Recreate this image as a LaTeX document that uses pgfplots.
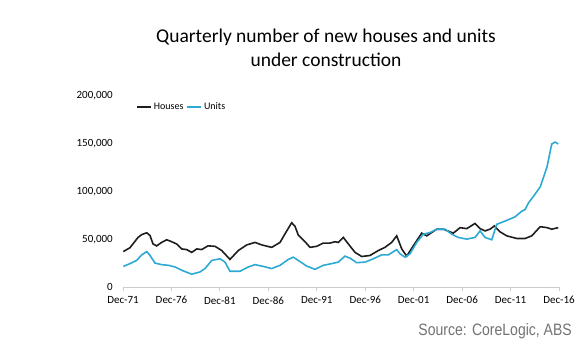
\documentclass[border=0pt]{standalone}
\usepackage{pgfplots}
\pgfplotsset{compat=1.18}
\usepackage{fontspec}
\setmainfont{Carlito}
\newfontfamily\srcfont[FakeStretch=0.85]{Liberation Sans}
\definecolor{unitblue}{RGB}{45,170,212}
\definecolor{housek}{RGB}{30,30,30}
\begin{document}
\begin{tikzpicture}[x=1pt,y=1pt]
\useasboundingbox (0,0) rectangle (580,352);
\node[font=\fontsize{19.5}{24}\selectfont, align=center, anchor=center] at (326,304) {Quarterly number of new houses and units\\under construction};
\begin{axis}[
  at={(123pt,65pt)}, anchor=south west,
  scale only axis, width=436pt, height=187pt,
  xmin=1971.92, xmax=2016.92,
  ymin=0, ymax=200000,
  axis x line*=bottom, axis y line=none,
  x axis line style={draw=gray!40, line width=0.8pt, -},
  xtick={1971.92,1976.92,...,2016.92},
  xticklabels={Dec-71,Dec-76,Dec-81,Dec-86,Dec-91,Dec-96,Dec-01,Dec-06,Dec-11,Dec-16},
  major tick length=4pt,
  xtick style={draw=gray!40, line width=0.8pt},
  tick align=outside,
  x tick label style={font=\fontsize{11}{13}\selectfont, yshift=-2pt},
  clip=false,
  legend style={at={(0.03,0.963)}, anchor=west, draw=none, fill=none,
    font=\fontsize{10}{12}\selectfont, inner sep=0pt,
    /tikz/every even column/.append style={column sep=1pt}},
  legend columns=2,
  legend image code/.code={\draw[#1] (0pt,0pt) -- (14pt,0pt);},
]
\addplot[housek, line width=1.6pt] coordinates {
(1971.95,37900)(1972.64,42000)(1973.47,53000)(1973.85,56000)(1974.37,58000)(1974.71,55000)(1975.02,46000)(1975.40,44000)(1975.91,47700)(1976.43,50500)(1976.95,48400)(1977.46,46000)(1977.98,40700)(1978.50,40000)(1979.01,37000)(1979.53,40700)(1980.04,40000)(1980.69,44000)(1981.42,43500)(1982.11,39000)(1982.96,29500)(1983.82,39000)(1984.69,45000)(1985.54,47700)(1986.24,45000)(1987.27,42400)(1988.13,47700)(1988.82,60000)(1989.33,68700)(1989.67,65000)(1990.01,55500)(1990.71,48400)(1991.22,42400)(1991.91,43500)(1992.60,47000)(1993.29,47000)(1993.80,48400)(1994.14,47700)(1994.66,53000)(1995.18,46000)(1995.87,37000)(1996.56,32600)(1997.41,33700)(1998.27,39000)(1998.96,42400)(1999.65,47700)(2000.17,54700)(2000.69,40700)(2001.20,33000)(2001.88,44000)(2002.75,57600)(2003.27,54700)(2004.30,61800)(2004.98,61800)(2006.01,57600)(2006.71,63500)(2007.40,62400)(2008.25,68000)(2008.77,62400)(2009.29,60000)(2009.80,61800)(2010.25,65300)(2010.83,59000)(2011.53,54700)(2012.56,51900)(2013.42,51900)(2014.11,54700)(2014.98,64500)(2015.67,63500)(2016.17,61800)(2016.85,63500)
};
\addlegendentry{Houses}
\addplot[unitblue, line width=1.6pt] coordinates {
(1971.95,22000)(1972.64,25000)(1973.33,28400)(1973.85,34400)(1974.37,37900)(1974.71,33700)(1975.22,25600)(1975.91,23900)(1976.60,23200)(1977.29,21400)(1977.98,17900)(1979.01,13700)(1979.87,16100)(1980.38,19700)(1981.08,28400)(1981.93,30200)(1982.45,26600)(1982.96,16800)(1983.99,16800)(1984.85,21400)(1985.54,23900)(1986.40,22000)(1987.27,19700)(1988.13,23200)(1988.98,29500)(1989.50,31900)(1990.01,28400)(1990.88,22400)(1991.74,18900)(1992.60,23200)(1993.46,25000)(1994.14,26600)(1994.83,33000)(1995.35,30800)(1996.04,26000)(1996.90,26600)(1997.76,30200)(1998.62,34400)(1999.31,34400)(2000.17,40000)(2000.51,35500)(2001.03,31900)(2001.54,35500)(2002.24,47700)(2002.92,56500)(2003.61,58200)(2004.30,61800)(2005.16,61800)(2005.85,56500)(2006.53,53000)(2007.40,51200)(2008.25,53000)(2008.77,60000)(2009.29,53000)(2009.98,50500)(2010.49,67000)(2011.35,70500)(2012.38,75000)(2013.07,81000)(2013.42,82800)(2013.76,89800)(2014.27,96800)(2014.98,107000)(2015.67,128000)(2016.17,152900)(2016.51,155000)(2016.85,152900)
};
\addlegendentry{Units}
\end{axis}
\foreach \v/\yy in {0/65,{50,000}/112.75,{100,000}/160.5,{150,000}/208.25,{200,000}/256}
  \node[anchor=east, font=\fontsize{11}{13}\selectfont, inner sep=0pt] at (113,\yy) {\v};
\node[anchor=east, font=\srcfont\fontsize{16.5}{18}\selectfont, text=black!55, inner sep=0pt] at (572,21) {Source: CoreLogic, ABS};
\end{tikzpicture}
\end{document}
